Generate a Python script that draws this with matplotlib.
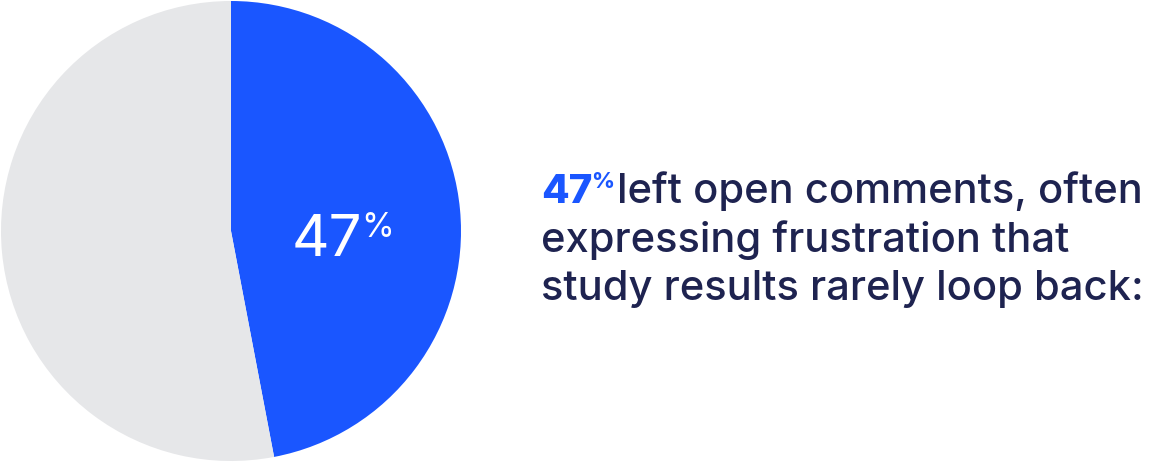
import matplotlib
matplotlib.use("Agg")
import matplotlib.pyplot as plt

categories = ["Left open comments", "Other"]
values = [47, 53]
colors = ["#1a56ff", "#e6e7e9"]
headline_pct = "47"
body_lines = ["left open comments, often",
              "expressing frustration that",
              "study results rarely loop back:"]

W, H = 1161, 462
fig = plt.figure(figsize=(W / 100, H / 100), dpi=100)
fig.patch.set_facecolor("white")

ax = fig.add_axes([1 / W, 1 / H, 460 / W, 460 / H])
ax.pie(values, colors=colors, startangle=90, counterclock=False,
       wedgeprops=dict(linewidth=0))
ax.set_aspect("equal")
ax.set_xlim(-1, 1)
ax.set_ylim(-1, 1)

FONT = "Inter"
navy = "#1e2350"

fig.canvas.draw()
r = fig.canvas.get_renderer()

def px(x, y):
    return x / W, 1 - y / H

# Inside label: "47" large white + small "%"
t1 = fig.text(*px(292, 256), headline_pct, fontsize=42, color="white",
              family=FONT, weight="normal", ha="left", va="baseline")
bb = t1.get_window_extent(r)
fig.text((bb.x1 - 1) / W, 1 - 237 / H, "%", fontsize=24, color="white",
         family=FONT, ha="left", va="baseline")

# Right text block
t2 = fig.text(*px(541, 203), headline_pct, fontsize=29, color=colors[0],
              family=FONT, weight="heavy", ha="left", va="baseline")
bb2 = t2.get_window_extent(r)
t3 = fig.text((bb2.x1 - 1) / W, 1 - 188 / H, "%", fontsize=16, color=colors[0],
              family=FONT, weight="heavy", ha="left", va="baseline")
bb3 = t3.get_window_extent(r)
fig.text((bb3.x1 + 3) / W, 1 - 203 / H, body_lines[0], fontsize=30,
         color=navy, family=FONT, weight="medium", ha="left", va="baseline")
fig.text(*px(541, 252), body_lines[1], fontsize=30, color=navy,
         family=FONT, weight="medium", ha="left", va="baseline")
fig.text(*px(541, 300), body_lines[2], fontsize=30, color=navy,
         family=FONT, weight="medium", ha="left", va="baseline")

fig.savefig("out.png", dpi=100, facecolor="white")
